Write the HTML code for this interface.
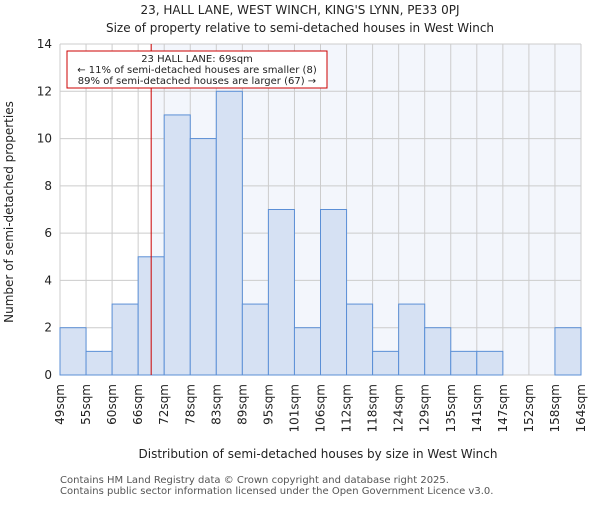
<!DOCTYPE html>
<html><head><meta charset="utf-8"><style>
body{margin:0;background:#fff;}
svg text{font-family:"DejaVu Sans","Liberation Sans",sans-serif;fill:#222;}
</style></head><body>
<svg width="600" height="500" xmlns="http://www.w3.org/2000/svg">
<text x="300" y="14" text-anchor="middle" font-size="12">23, HALL LANE, WEST WINCH, KING'S LYNN, PE33 0PJ</text>
<text x="300" y="32" text-anchor="middle" font-size="12">Size of property relative to semi-detached houses in West Winch</text>
<g id="plot"></g>
<text x="318" y="458" text-anchor="middle" font-size="12">Distribution of semi-detached houses by size in West Winch</text>
<text transform="translate(13,212) rotate(-90)" text-anchor="middle" font-size="12">Number of semi-detached properties</text>
<text x="60" y="483" font-size="10" style="fill:#555">Contains HM Land Registry data © Crown copyright and database right 2025.</text>
<text x="60" y="494" font-size="10" style="fill:#555">Contains public sector information licensed under the Open Government Licence v3.0.</text>
</svg>
<script>
const categories=["49sqm","55sqm","60sqm","66sqm","72sqm","78sqm","83sqm","89sqm","95sqm","101sqm","106sqm","112sqm","118sqm","124sqm","129sqm","135sqm","141sqm","147sqm","152sqm","158sqm","164sqm"];
const counts=[2,1,3,5,11,10,12,3,7,2,7,3,1,3,2,1,1,0,0,2];
const yTicks=[0,2,4,6,8,10,12,14];
const markerBin=3.5;
const NS="http://www.w3.org/2000/svg";
const g=document.getElementById("plot");
const X0=60,X1=581,Y0=375,Y1=44,YMAX=14;
const bw=(X1-X0)/counts.length;
const xs=i=>X0+i*bw, ys=v=>Y0-(Y0-Y1)*v/YMAX;
function el(t,a){const e=document.createElementNS(NS,t);for(const k in a)e.setAttribute(k,a[k]);g.appendChild(e);return e;}
const mx=xs(markerBin);
let r=el("rect",{x:X0,y:Y1,width:mx-X0,height:Y0-Y1,fill:"#ffffff"});


r=el("rect",{x:mx,y:Y1,width:X1-mx,height:Y0-Y1,fill:"#f3f6fc"});


for(let i=0;i<=counts.length;i++){const l=el("line",{x1:xs(i),x2:xs(i),y1:Y1,y2:Y0,stroke:"#cccccc","stroke-width":1});

}
yTicks.forEach(v=>{const l=el("line",{x1:X0,x2:X1,y1:ys(v),y2:ys(v),stroke:"#cccccc","stroke-width":1});


const t=el("text",{x:X0-8,y:ys(v)+4,"text-anchor":"end","font-size":12});t.textContent=v;

});
counts.forEach((c,i)=>{if(c<=0)return;const b=el("rect",{x:xs(i),y:ys(c),width:bw,height:Y0-ys(c),fill:"#d6e1f3",stroke:"#5b8fd6","stroke-width":1});

});
categories.forEach((c,i)=>{const t=el("text",{transform:`translate(${xs(i)+4},384) rotate(-90)`,"text-anchor":"end","font-size":12});t.textContent=c;

});
const ml=el("line",{x1:mx,x2:mx,y1:Y1,y2:Y0,stroke:"#cc0000","stroke-width":1});


const bx=el("rect",{x:67,y:51,width:260,height:37,fill:"#fff",stroke:"#cc0000","stroke-width":1});


[["23 HALL LANE: 69sqm",62],["← 11% of semi-detached houses are smaller (8)",73],["89% of semi-detached houses are larger (67) →",84]].forEach(([s,y])=>{const t=el("text",{x:197,y:y,"text-anchor":"middle","font-size":10});t.textContent=s;

});
</script>
</body></html>
